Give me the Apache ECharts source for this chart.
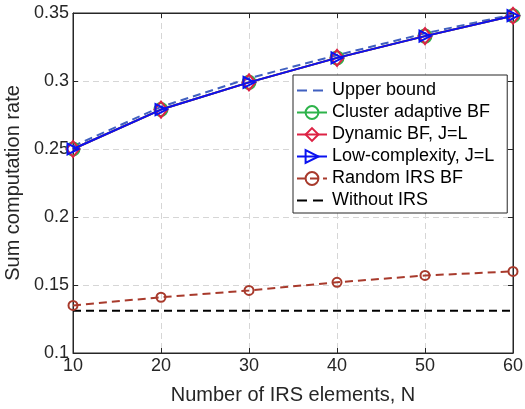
<!DOCTYPE html>
<html><head><meta charset="utf-8">
<script src="https://cdn.jsdelivr.net/npm/echarts@6/dist/echarts.min.js"></script>
<style>html,body{margin:0;padding:0;background:#fff}#c{width:525px;height:409px}</style>
</head><body><div id="c"></div>
<script>
const N = [10, 20, 30, 40, 50, 60];
const upperBound = [0.252, 0.281, 0.302, 0.319, 0.335, 0.349];
const clusterBF = [0.250, 0.279, 0.299, 0.317, 0.333, 0.348];
const dynamicBF = [0.250, 0.279, 0.299, 0.317, 0.333, 0.348];
const lowComplexity = [0.250, 0.279, 0.299, 0.317, 0.333, 0.348];
const randomIRS = [0.135, 0.141, 0.146, 0.152, 0.157, 0.160];
const withoutIRS = [0.131, 0.131, 0.131, 0.131, 0.131, 0.131];
const xTicks = [10, 20, 30, 40, 50, 60];
const yTicks = [0.1, 0.15, 0.2, 0.25, 0.3, 0.35];

const pair = arr => N.map((n, i) => [n, arr[i]]);
const txt = '#262626';
const font = 'Liberation Sans, Arial, Helvetica, sans-serif';
const chart = echarts.init(document.getElementById('c'));
const hollow = 'rgba(0,0,0,0)';
const dashIcon = 'path://M0,0 M30,15 M0,6.5h10v2h-10z M16,6.5h10v2h-10z';
chart.setOption({
  animation: false,
  grid: {left: 73, right: 12, top: 13, bottom: 56, show: true, borderColor: txt, borderWidth: 1, outerBoundsMode: 'none', containLabel: false},
  legend: {
    orient: 'vertical', left: 293, top: 75,
    backgroundColor: '#fff', borderColor: txt, borderWidth: 1,
    padding: [6, 13, 3, 3], itemGap: 3, itemWidth: 30, itemHeight: 16,
    textStyle: {color: '#000', fontSize: 18, lineHeight: 19, fontFamily: font},
    data: [
      {name: 'Upper bound', icon: dashIcon, itemStyle: {color: '#4060c0'}},
      'Cluster adaptive BF', 'Dynamic BF, J=L', 'Low-complexity, J=L', 'Random IRS BF',
      {name: 'Without IRS', icon: dashIcon, itemStyle: {color: '#000'}}
    ]
  },
  xAxis: [{
    type: 'value', min: 10, max: 60, interval: 10,
    name: 'Number of IRS elements, N', nameLocation: 'middle', nameGap: 32,
    nameTextStyle: {color: txt, fontSize: 20, fontFamily: font},
    axisLine: {lineStyle: {color: txt}}, axisTick: {inside: true, length: 5, lineStyle: {color: txt}},
    axisLabel: {color: txt, fontSize: 18, fontFamily: font, margin: 4, formatter: v => xTicks.includes(v) ? String(v) : ''},
    splitLine: {show: true, lineStyle: {color: '#d6d6d6', type: [6, 4]}}
  }, {
    type: 'value', position: 'top', min: 10, max: 60, interval: 10,
    axisLine: {show: true, lineStyle: {color: txt}}, axisTick: {inside: true, length: 5, lineStyle: {color: txt}},
    axisLabel: {show: false}, splitLine: {show: false}
  }],
  yAxis: [{
    type: 'value', min: 0.1, max: 0.35, interval: 0.05,
    name: 'Sum computation rate', nameLocation: 'middle', nameGap: 42,
    nameTextStyle: {color: txt, fontSize: 20, fontFamily: font},
    axisLine: {show: true, lineStyle: {color: txt}}, axisTick: {show: true, inside: true, length: 5, lineStyle: {color: txt}},
    axisLabel: {color: txt, fontSize: 18, fontFamily: font, margin: 4, formatter: v => { const t = yTicks.find(y => Math.abs(y - v) < 1e-9); return t === undefined ? '' : String(t); }},
    splitLine: {show: true, lineStyle: {color: '#d6d6d6', type: [6, 4]}}
  }, {
    type: 'value', position: 'right', min: 0.1, max: 0.35, interval: 0.05,
    axisLine: {show: true, lineStyle: {color: txt}}, axisTick: {show: true, inside: true, length: 5, lineStyle: {color: txt}},
    axisLabel: {show: false}, splitLine: {show: false}
  }],
  series: [
    {name: 'Upper bound', type: 'line', data: pair(upperBound), symbol: 'none', z: 2,
     lineStyle: {color: '#4060c0', width: 2, type: [8, 5]}, itemStyle: {color: '#4060c0'}},
    {name: 'Cluster adaptive BF', type: 'line', data: pair(clusterBF), symbol: 'circle', symbolSize: 13, z: 3,
     lineStyle: {color: '#2db34a', width: 2}, itemStyle: {color: hollow, borderColor: '#2db34a', borderWidth: 2}},
    {name: 'Dynamic BF, J=L', type: 'line', data: pair(dynamicBF), symbol: 'diamond', symbolSize: [13, 16], z: 4,
     lineStyle: {color: '#dd2244', width: 2}, itemStyle: {color: hollow, borderColor: '#dd2244', borderWidth: 2}},
    {name: 'Low-complexity, J=L', type: 'line', data: pair(lowComplexity), symbol: 'triangle', symbolRotate: -90, symbolSize: 11, z: 5,
     lineStyle: {color: '#0a12f0', width: 2}, itemStyle: {color: hollow, borderColor: '#0a12f0', borderWidth: 2}},
    {name: 'Random IRS BF', type: 'line', data: pair(randomIRS), symbol: 'circle', symbolSize: 9, z: 3,
     lineStyle: {color: '#a83a2c', width: 2, type: [8, 5]}, itemStyle: {color: hollow, borderColor: '#a83a2c', borderWidth: 2}},
    {name: 'Without IRS', type: 'line', data: pair(withoutIRS), symbol: 'none', z: 2,
     lineStyle: {color: '#000', width: 2, type: [8, 5]}, itemStyle: {color: '#000'}}
  ]
});
</script></body></html>
